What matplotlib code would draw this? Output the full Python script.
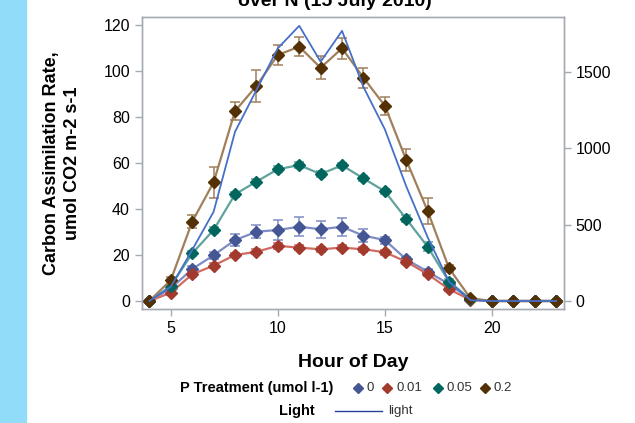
import matplotlib
matplotlib.use("Agg")
import matplotlib.pyplot as plt
from matplotlib.lines import Line2D
from matplotlib.patches import Rectangle

plt.rcParams['font.family'] = ['Liberation Sans', 'DejaVu Sans']

hours = list(range(4, 24))

# carbon assimilation per P treatment (umol l-1)
treatments = ['0', '0.01', '0.05', '0.2']
p0 = [0, 5.5, 13.9, 19.9, 26.5, 30.1, 30.9, 32.3, 31.2, 32.3, 28.4, 26.5, 18.1, 12.8, 7.3, 0.8, 0, 0, 0, 0]
p0_err = [0, 1.0, 1.2, 1.5, 2.5, 2.9, 4.3, 4.2, 3.7, 3.9, 2.7, 1.5, 1.0, 1.0, 0.8, 0.3, 0, 0, 0, 0]
p001 = [0, 3.6, 11.6, 15.4, 20.0, 21.4, 24.0, 23.2, 22.5, 23.2, 22.5, 21.2, 17.1, 11.7, 5.1, 0.5, 0, 0, 0, 0]
p001_err = [0, 0.8, 1.0, 1.0, 1.0, 1.0, 1.2, 1.0, 1.0, 1.0, 1.0, 1.0, 1.0, 1.0, 0.8, 0.3, 0, 0, 0, 0]
p005 = [0, 6.5, 20.7, 30.9, 46.4, 51.9, 57.3, 59.1, 55.2, 59.0, 53.3, 47.7, 35.7, 23.6, 8.4, 0.8, 0, 0, 0, 0]
p005_err = [0, 0.8, 1.0, 1.2, 1.2, 1.2, 1.2, 1.2, 1.2, 1.2, 1.2, 1.2, 1.5, 2.0, 1.0, 0.3, 0, 0, 0, 0]
p02 = [0, 9.1, 34.5, 51.6, 82.6, 93.5, 107.0, 110.6, 101.4, 109.9, 97.1, 84.9, 61.3, 39.1, 14.2, 1.2, 0, 0, 0, 0]
p02_err = [0, 1.5, 2.8, 6.6, 4.0, 7.0, 4.3, 4.2, 5.0, 4.5, 4.3, 4.0, 4.8, 5.5, 1.5, 0.5, 0, 0, 0, 0]

# light (right axis)
light = [0, 93, 334, 584, 1107, 1380, 1653, 1800, 1565, 1767, 1400, 1123, 750, 417, 126, 5, 0, 0, 0, 0]

series = [p0, p001, p005, p02]
errors = [p0_err, p001_err, p005_err, p02_err]
mcolors = ['#445694', '#A23A2E', '#01665E', '#543005']
lcolors = ['#7F8CC4', '#D06A62', '#5FA39C', '#A0805C']
light_color = '#4670C8'

fig = plt.figure(figsize=(6.35, 4.23), dpi=100)
fig.patches.append(Rectangle((0, 0), 26 / 635, 1, transform=fig.transFigure,
                             color='#90DCF9', zorder=0))

ax = fig.add_axes([141.7 / 635, 1 - 309 / 423, (564 - 141.7) / 635, (309 - 17) / 423])
for y, e, mc, lc in zip(series, errors, mcolors, lcolors):
    ax.errorbar(hours, y, yerr=e, color=lc, lw=1.6, elinewidth=1.1, capsize=3.5,
                capthick=1.1, marker='D', markersize=6.5, mfc=mc, mec=mc, zorder=3)

ax.set_xlim(3.64, 23.37)
ax.set_ylim(-3.48, 123.5)
ax.set_xticks([5, 10, 15, 20])
ax.set_yticks(range(0, 121, 20))

ax2 = ax.twinx()
ax2.plot(hours, light, color=light_color, lw=1.3, zorder=4)
ax2.set_ylim(-52.3, 1857.7)
ax2.set_yticks([0, 500, 1000, 1500])

for a in (ax, ax2):
    for s in a.spines.values():
        s.set_color('#A4ABB2')
        s.set_linewidth(1.0)
    a.tick_params(colors='#A4ABB2', labelcolor='black', labelsize=11.5, length=5, width=1)

fig.text(353 / 635, 1 - 362 / 423, 'Hour of Day', ha='center', va='center',
         fontsize=14, fontweight='bold')
fig.text(62 / 635, 1 - 163 / 423, 'Carbon Assimilation Rate,\numol CO2 m-2 s-1',
         rotation=90, ha='center', va='center', fontsize=13, fontweight='bold',
         linespacing=1.3)

fig.text(335 / 635, 1 - 6 / 423, 'over N (15 July 2010)', ha='center', va='baseline',
         fontsize=14, fontweight='bold')

# legend rows drawn by hand
ly = 1 - 388 / 423
fig.text(333 / 635, ly, 'P Treatment (umol l-1)', ha='right', va='center',
         fontsize=10.5, fontweight='bold')
mx = [358, 387, 438, 485]
for x, lab, mc in zip(mx, treatments, mcolors):
    fig.add_artist(Line2D([x / 635], [ly], marker='D', markersize=5.5, color=mc,
                          transform=fig.transFigure))
    fig.text((x + 9) / 635, ly, lab, ha='left', va='center', fontsize=9.5, color='#333333')

ly2 = 1 - 411 / 423
fig.text(315 / 635, ly2, 'Light', ha='right', va='center', fontsize=10.5, fontweight='bold')
fig.add_artist(Line2D([335 / 635, 382 / 635], [ly2, ly2], color='#24449A', lw=1,
                      transform=fig.transFigure))
fig.text(388 / 635, ly2, 'light', ha='left', va='center', fontsize=9.5, color='#333333')

fig.savefig('out.png', dpi=100)
